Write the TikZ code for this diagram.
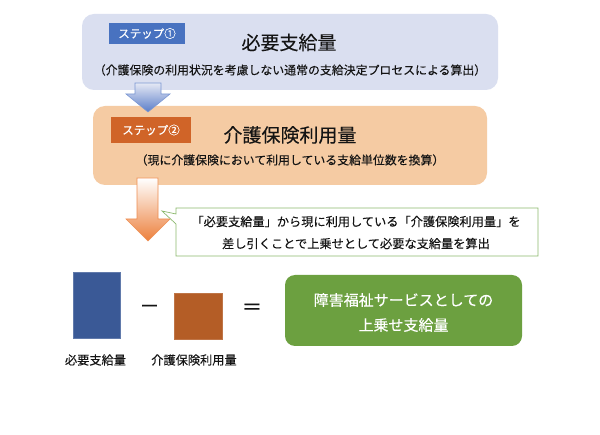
\documentclass[tikz,border=0pt]{standalone}
\usepackage{fontspec}
\setmainfont{Noto Sans CJK JP}[FakeBold=0.15]
\definecolor{boxa}{RGB}{218,223,240}
\definecolor{boxb}{RGB}{245,203,163}
\definecolor{stepa}{RGB}{72,114,192}
\definecolor{stepb}{RGB}{208,100,40}
\definecolor{txt}{RGB}{20,20,20}
\definecolor{arra}{RGB}{90,125,200}
\definecolor{arrb}{RGB}{236,128,60}
\definecolor{calloutline}{RGB}{140,185,110}
\definecolor{bluerect}{RGB}{58,89,150}
\definecolor{orangerect}{RGB}{180,93,38}
\definecolor{greenbox}{RGB}{108,160,64}
\tikzset{
  panel/.style={inner sep=0pt, rounded corners=12pt},
  steplabel/.style={inner sep=0pt, text=white, font=\fontsize{11.5}{11.5}\selectfont},
  title/.style={inner sep=0pt, text=txt, font=\fontsize{19}{19}\selectfont},
  subtitle/.style={inner sep=0pt, text=txt, font=\fontsize{11.9}{11.9}\selectfont},
  bodytext/.style={inner sep=0pt, text=txt, align=center, font=\fontsize{12.2}{22}\selectfont},
  symb/.style={inner sep=0pt, text=txt, font=\fontsize{20}{20}\selectfont}
}
\begin{document}
\begin{tikzpicture}[x=1pt,y=-1pt]
\useasboundingbox (0,0) rectangle (600,435);
\fill[white] (0,0) rectangle (600,435);

% panels
\node[panel, fill=boxa, minimum width=416pt, minimum height=76pt] (box1) at (290,52) {};
\node[panel, fill=boxb, minimum width=394pt, minimum height=79pt] (box2) at (290,145.5) {};

% step labels
\node[steplabel, fill=stepa, minimum width=76pt, minimum height=21pt] (s1) at (147,33.5) {ステップ①};
\node[steplabel, fill=stepb, minimum width=80pt, minimum height=26pt] (s2) at (151,130) {ステップ②};

% titles
\node[title] (t1) at (289,42.5) {必要支給量};
\node[subtitle] (sub1) at (290,70) {（介護保険の利用状況を考慮しない通常の支給決定プロセスによる算出）};
\node[title] (t2) at (290,135) {介護保険利用量};
\node[subtitle] (sub2) at (290,160) {（現に介護保険において利用している支給単位数を換算）};

% arrow 1
\shade[top color=boxa!70!white, bottom color=arra, draw=arra!80!white, line width=0.6pt]
  (135,83) -- (161,83) -- (161,94) -- (170,94) -- (148,112) -- (126,94) -- (135,94) -- cycle;
% arrow 2
\shade[top color=white, bottom color=arrb, draw=arrb!90!white, line width=0.6pt]
  (137,178) -- (158,178) -- (158,219) -- (170,219) -- (148,241) -- (126,219) -- (137,219) -- cycle;

% callout
\coordinate (ptr) at (162,211);
\draw[calloutline, fill=white, line width=0.7pt]
  (176,208) -- (538,208) -- (538,256) -- (176,256) -- (176,224) -- (ptr) -- (176,214) -- cycle;
\node[bodytext] (callout) at (356,232.5) {「必要支給量」から現に利用している「介護保険利用量」を\\差し引くことで上乗せとして必要な支給量を算出};

% bottom equation
\node[fill=bluerect, draw=bluerect!80!white, inner sep=0pt, minimum width=47pt, minimum height=66pt] (need) at (96.5,305) {};
\node[symb] (minus) at (149.5,309) {－};
\node[fill=orangerect, draw=orangerect!85!white, inner sep=0pt, minimum width=48pt, minimum height=46pt] (use) at (198,316) {};
\node[symb] (equal) at (252,309) {＝};
\node[panel, rounded corners=10pt, fill=greenbox, minimum width=237pt, minimum height=71pt] (result) at (403.5,310.5) {};
\node[inner sep=0pt, text=white, align=center, font=\fontsize{15}{25}\selectfont] (resulttext) at (403.5,312.5) {障害福祉サービスとしての\\上乗せ支給量};

\node[bodytext] (needlabel) at (95.5,360) {必要支給量};
\node[bodytext] (uselabel) at (194,360) {介護保険利用量};
\end{tikzpicture}
\end{document}
